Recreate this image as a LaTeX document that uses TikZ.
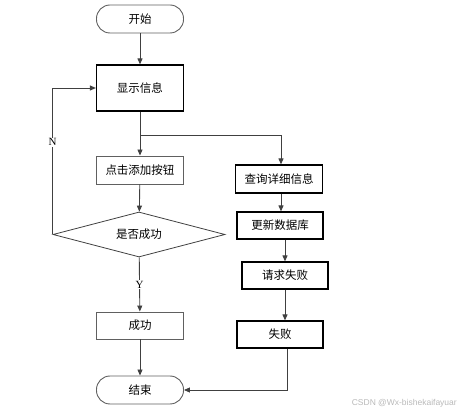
\documentclass[tikz,border=0pt]{standalone}
\usepackage{fontspec}
\newfontfamily\cjk{Noto Sans CJK SC}
\newfontfamily\lserif{Liberation Serif}
\newfontfamily\lsans{Liberation Sans}
\usetikzlibrary{arrows.meta,shapes.geometric,calc}
\definecolor{linec}{HTML}{404040}
\definecolor{thinc}{HTML}{606060}
\begin{document}
\begin{tikzpicture}[x=1pt,y=-1pt,
  txt/.style={font=\cjk\fontsize{11.5}{13}\selectfont},
  box/.style={txt,draw=black,line width=1.2pt,minimum width=87pt,minimum height=28pt,inner sep=0pt},
  thinbox/.style={box,draw=thinc,line width=0.9pt},
  term/.style={thinbox,rounded corners=13.5pt},
  dia/.style={txt,draw=linec,line width=0.8pt,diamond,aspect=3.8,minimum width=172pt,minimum height=45pt,inner sep=0pt},
  conn/.style={draw=linec,line width=0.9pt,-{Triangle[length=6pt,width=5pt]}},
  lab/.style={font=\lserif\fontsize{11}{13}\selectfont,fill=white,inner sep=1pt}]
\useasboundingbox (0,0) rectangle (459,414);
\node[term] (start) at (140,19) {开始};
\node[box,minimum height=46pt] (show) at (140,88) {显示信息};
\node[thinbox] (click) at (140,170) {点击添加按钮};
\node[dia] (ok) at (139,234.5) {是否成功};
\node[thinbox,minimum height=27pt] (succ) at (140,325.5) {成功};
\node[term] (end) at (140,390) {结束};
\node[box] (query) at (279,179) {查询详细信息};
\node[box,minimum width=86pt,minimum height=27pt] (upd) at (280,225.5) {更新数据库};
\node[box,minimum width=86pt,minimum height=27pt] (req) at (285,275.5) {请求失败};
\node[box,minimum width=86pt,minimum height=27pt] (fail) at (280,334.5) {失败};
\coordinate (br) at (140,135);
\draw[conn] (start) -- (show);
\draw[conn] (show) -- (click);
\draw[conn] (br) -| ([xshift=2pt]query.north);
\draw[conn] (click) -- (ok);
\draw[conn] (ok) -- node[lab]{Y} (succ);
\draw[conn] (succ) -- (end);
\draw[conn] (ok.west) -- node[lab,pos=0.63]{N} (ok.west |- show.west) -- (show.west);
\draw[conn] ([xshift=2pt]query.south) -- ([xshift=2pt]query.south |- upd.north);
\draw[conn] (req.north |- upd.south) -- (req.north);
\draw[conn] (req.south) -- (req.south |- fail.north);
\draw[conn] ([xshift=7pt]fail.south) |- (end.east);
\node[font=\lsans\fontsize{8.5}{10}\selectfont,text=gray!55,anchor=east,inner sep=0pt] (wm) at (457,403) {CSDN @Wx-bishekaifayuar};
\end{tikzpicture}
\end{document}
